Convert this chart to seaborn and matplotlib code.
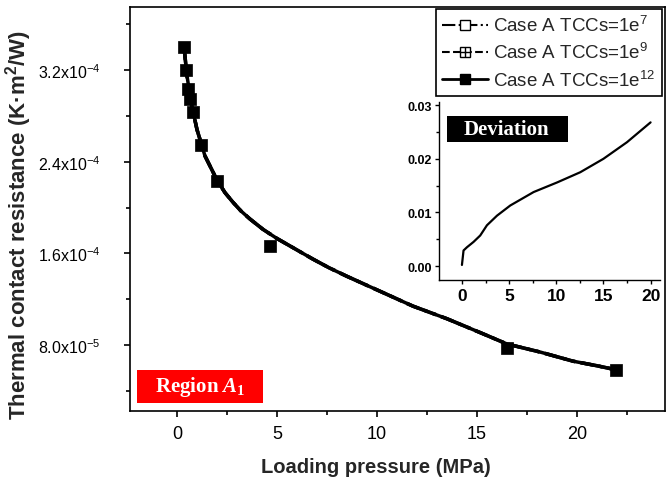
import matplotlib
matplotlib.use('Agg')
import matplotlib.pyplot as plt
import seaborn as sns
from matplotlib.lines import Line2D
from matplotlib.patches import Rectangle
from matplotlib.ticker import MultipleLocator, FixedLocator

# ---------------- data ----------------
curve_p = [0.35, 0.5, 0.7, 1.0, 1.4, 2.0, 2.4, 2.8, 3.2, 3.65, 4.3, 5.0,
           5.9, 6.8, 7.6, 8.5, 10.15, 11.8, 13.5, 15.15, 16.5, 18.15, 19.8,
           21.0, 21.95]
curve_r = [3.40e-4, 3.15e-4, 2.92e-4, 2.68e-4, 2.45e-4, 2.24e-4, 2.13e-4,
           2.046e-4, 1.97e-4, 1.90e-4, 1.81e-4, 1.73e-4, 1.64e-4, 1.55e-4,
           1.475e-4, 1.40e-4, 1.27e-4, 1.14e-4, 1.03e-4, 9.1e-5, 8.1e-5,
           7.4e-5, 6.6e-5, 6.2e-5, 5.85e-5]
marker_p = [0.35, 0.45, 0.57, 0.66, 0.78, 1.2, 2.0, 4.65, 16.5, 21.95]
marker_r = [3.40e-4, 3.20e-4, 3.03e-4, 2.95e-4, 2.83e-4, 2.55e-4, 2.23e-4,
            1.667e-4, 7.71e-5, 5.85e-5]
dev_p = [0.0, 0.17, 0.53, 1.23, 1.94, 2.65, 3.72, 5.13, 7.6, 10.1, 12.55,
         15.0, 17.5, 20.0]
dev_v = [0.0002, 0.0029, 0.0035, 0.0045, 0.0057, 0.0076, 0.0094, 0.0113,
         0.0138, 0.0156, 0.0175, 0.0200, 0.0231, 0.0268]

series_labels = ['Case A TCCs=1e$^{7}$', 'Case A TCCs=1e$^{9}$',
                 'Case A TCCs=1e$^{12}$']
ytick_vals = [8.0e-5, 1.6e-4, 2.4e-4, 3.2e-4]
ytick_labels = ['8.0x10$^{-5}$', '1.6x10$^{-4}$', '2.4x10$^{-4}$',
                '3.2x10$^{-4}$']
xtick_vals = [0, 5, 10, 15, 20]
xtick_labels = ['0', '5', '10', '15', '20']
inset_xticks = [0, 5, 10, 15, 20]
inset_yticks = [0.00, 0.01, 0.02, 0.03]
inset_ytick_labels = ['0.00', '0.01', '0.02', '0.03']

# ---------------- style ----------------
sns.set_theme(style='ticks')
plt.rcParams['font.family'] = ['Liberation Sans', 'DejaVu Sans']
plt.rcParams['mathtext.fontset'] = 'custom'
plt.rcParams['mathtext.it'] = 'Liberation Serif:italic:bold'
plt.rcParams['mathtext.default'] = 'regular'
plt.rcParams['axes.linewidth'] = 1.2
plt.rcParams['axes.edgecolor'] = 'black'

fig = plt.figure(figsize=(6.66, 4.81), dpi=100)
ax = fig.add_axes([130 / 666, 69.3 / 481, 535 / 666, 403.4 / 481])

styles = ['-.', '--', '-']
for ls in styles:
    sns.lineplot(x=curve_p, y=curve_r, ax=ax, color='black', lw=2.5,
                 linestyle=ls, legend=False, zorder=3)
sns.scatterplot(x=marker_p, y=marker_r, ax=ax, marker='s', s=72,
                color='black', edgecolor='black', linewidth=0.5,
                legend=False, zorder=5)

ax.set_xlim(-2.35, 24.4)
ax.set_ylim(2.28e-5, 3.747e-4)
ax.xaxis.set_major_locator(FixedLocator(xtick_vals))
ax.set_xticklabels(xtick_labels)
ax.xaxis.set_minor_locator(MultipleLocator(2.5))
ax.yaxis.set_major_locator(FixedLocator(ytick_vals))
ax.set_yticklabels(ytick_labels)
ax.yaxis.set_minor_locator(MultipleLocator(4e-5))
ax.tick_params(axis='both', which='major', direction='out', length=4,
               width=1.2, colors='black')
ax.tick_params(axis='both', which='minor', direction='out', length=3,
               width=1.2, colors='black')
ax.tick_params(axis='y', which='major', labelsize=11.5, pad=17)
ax.tick_params(axis='x', which='major', labelsize=13, pad=6)

ax.set_xlabel('Loading pressure (MPa)', fontsize=14.5, fontweight='bold')
ax.xaxis.set_label_coords(0.46, -0.115)
ax.set_ylabel('Thermal contact resistance (K·m$^{2}$/W)', fontsize=16,
              fontweight='bold')
ax.yaxis.set_label_coords(-0.18, 0.463)

# Region label
ax.add_patch(Rectangle((7 / 535, 7.7 / 403.4), 126 / 535, 33 / 403.4,
                       transform=ax.transAxes, facecolor='#ff0000',
                       edgecolor='none', zorder=6))
ax.text(70 / 535, 24.5 / 403.4, 'Region $\\mathit{A}_{1}$',
        transform=ax.transAxes, ha='center', va='center', color='white',
        fontsize=15, fontweight='bold', family='Liberation Serif', zorder=7)

# Legend
h1 = Line2D([], [], color='black', ls='-.', lw=1.5, marker='s', ms=7,
            mfc='white', mec='black')
h2a = Line2D([], [], color='black', ls='--', lw=1.5, marker='s', ms=7,
             mfc='white', mec='black')
h2b = Line2D([], [], color='black', ls='none', marker='+', ms=7, mew=1)
h3 = Line2D([], [], color='black', ls='-', lw=2, marker='s', ms=7,
            mfc='black', mec='black')
leg = ax.legend([h1, (h2a, h2b), h3], series_labels, loc='upper left',
                bbox_to_anchor=(435.7 / 666, 1 - 10 / 481),
                bbox_transform=fig.transFigure, frameon=True, fancybox=False,
                edgecolor='black', framealpha=1, fontsize=13.5,
                handlelength=2.45, handletextpad=0.3, borderpad=0.32,
                labelspacing=0.38, borderaxespad=0)
leg.get_frame().set_linewidth(1.2)
leg.set_zorder(10)

# Inset
ins = fig.add_axes([439.3 / 666, (481 - 280.7) / 481, 220.7 / 666,
                    177.7 / 481])
sns.lineplot(x=dev_p, y=dev_v, ax=ins, color='black', lw=1.6, legend=False)
ins.set_xlim(-2.4, 21.0)
ins.set_ylim(-0.00255, 0.0306)
ins.spines['top'].set_visible(False)
ins.spines['right'].set_visible(False)
for s in ['left', 'bottom']:
    ins.spines[s].set_linewidth(1.0)
ins.xaxis.set_major_locator(FixedLocator(inset_xticks))
ins.xaxis.set_minor_locator(MultipleLocator(2.5))
ins.yaxis.set_major_locator(FixedLocator(inset_yticks))
ins.set_yticklabels(inset_ytick_labels)
ins.yaxis.set_minor_locator(MultipleLocator(0.005))
ins.tick_params(axis='both', which='major', direction='out', length=3,
                width=1, colors='black')
ins.tick_params(axis='both', which='minor', direction='out', length=2,
                width=1, colors='black')
ins.tick_params(axis='y', labelsize=9, pad=2)
ins.tick_params(axis='x', labelsize=12.5, pad=3)
for lab in ins.get_xticklabels() + ins.get_yticklabels():
    lab.set_fontweight('bold')
ins.add_patch(Rectangle((0.035, 0.775), 0.548, 0.146,
                        transform=ins.transAxes, facecolor='black',
                        edgecolor='none', zorder=6))
ins.text(0.305, 0.85, 'Deviation', transform=ins.transAxes, ha='center',
         va='center', color='white', fontsize=15, fontweight='bold',
         family='Liberation Serif', zorder=7)

fig.savefig('out.png', dpi=100)
